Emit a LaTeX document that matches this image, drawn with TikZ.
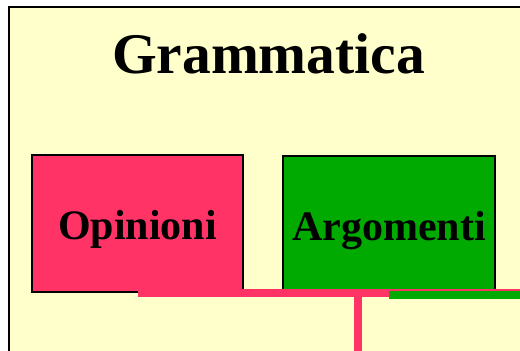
\documentclass[tikz,border=0pt]{standalone}
\usepackage{fontspec}
\setmainfont{Liberation Serif}
\definecolor{bgyellow}{RGB}{255,255,204}
\definecolor{oppink}{RGB}{255,51,102}
\definecolor{arggreen}{RGB}{0,170,0}
\tikzset{
  box/.style={draw=black, line width=2pt, minimum width=211pt, minimum height=137pt,
    inner sep=0pt, text height=31pt, text depth=0pt,
    font=\fontsize{42}{44}\selectfont\bfseries},
  pinkbar/.style={draw=oppink, line width=8pt},
  greenbar/.style={draw=arggreen, line width=8pt},
}
\begin{document}
\begin{tikzpicture}[x=1pt,y=-1pt]
\useasboundingbox (0,0) rectangle (520,351);
\clip (0,0) rectangle (520,351);
\fill[white] (0,0) rectangle (520,351);
\filldraw[fill=bgyellow, draw=black, line width=2pt] (9,7) rectangle (560,400);
\node[anchor=base, font=\fontsize{57.5}{60}\selectfont\bfseries, inner sep=0pt] (title) at (268.5,73) {Grammatica};
\node[box, fill=oppink] (op) at (137.5,223.5) {Opinioni};
\node[box, fill=arggreen, minimum width=212pt] (arg) at (389,224.5) {Argomenti};
\coordinate (pe) at (540,293);
\coordinate (pv) at (358,293);
\coordinate (pb) at (358,370);
\coordinate (ge) at (540,295);
\draw[pinkbar] (op.center |- pe) -- (pe);
\draw[pinkbar] (pv) -- (pb);
\draw[greenbar] (arg.center |- ge) -- (ge);
\end{tikzpicture}
\end{document}
